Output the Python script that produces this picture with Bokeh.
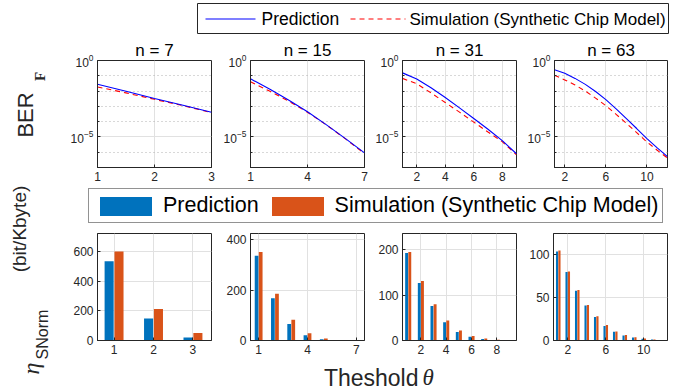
import math
from bokeh.plotting import figure
from bokeh.models import (Range1d, FixedTicker, Label, Legend, LegendItem, ColumnDataSource)
from bokeh.layouts import row, column
from bokeh.transform import dodge
from bokeh.embed import file_html
from bokeh.resources import INLINE

FONT = "Liberation Sans"
SERIF = "Liberation Serif"
TXT = "#262626"
LINE_BLUE = "#0000FF"
LINE_RED = "#FF0000"
BAR_BLUE = "#0072BD"
BAR_ORANGE = "#D95319"
GRID = "#E1E1E1"

# ---------------- data ----------------
titles = ["n = 7", "n = 15", "n = 31", "n = 63"]
series_names = ["Prediction", "Simulation (Synthetic Chip Model)"]

# BER_F curves (top row)
ber_x_n7 = [1, 1.5, 2, 2.5, 3]
ber_pred_n7 = [2.82e-2, 9.77e-3, 3.24e-3, 1.17e-3, 4.07e-4]
ber_sim_n7 = [1.86e-2, 7.59e-3, 2.88e-3, 1.12e-3, 3.89e-4]

ber_x_n15 = [1, 2, 3, 4, 5, 6, 7]
ber_pred_n15 = [6.31e-2, 1.38e-2, 2.57e-3, 4.47e-4, 6.17e-5, 7.76e-6, 9.12e-7]
ber_sim_n15 = [4.07e-2, 1.00e-2, 2.24e-3, 4.07e-4, 6.03e-5, 7.41e-6, 8.13e-7]

ber_x_n31 = [1, 2, 3, 4, 5, 6, 7, 8, 9]
ber_pred_n31 = [0.155, 6.17e-2, 1.66e-2, 3.80e-3, 7.94e-4, 1.62e-4, 3.16e-5, 5.75e-6, 7.94e-7]
ber_sim_n31 = [6.76e-2, 3.02e-2, 7.59e-3, 1.78e-3, 4.17e-4, 9.33e-5, 2.09e-5, 4.90e-6, 6.76e-7]

ber_x_n63 = [1, 2, 3, 4, 5, 6, 7, 8, 9, 10, 11, 12]
ber_pred_n63 = [0.251, 0.145, 6.76e-2, 2.75e-2, 9.33e-3, 2.75e-3, 6.92e-4, 1.58e-4,
                3.55e-5, 7.76e-6, 1.91e-6, 5.13e-7]
ber_sim_n63 = [0.110, 5.37e-2, 2.51e-2, 1.00e-2, 3.47e-3, 1.10e-3, 3.02e-4, 7.76e-5,
               1.91e-5, 4.68e-6, 1.35e-6, 4.17e-7]

ber_xticks = [[1, 2, 3], [1, 4, 7], [2, 4, 6, 8], [2, 6, 10]]
ber_xlims = [(1, 3), (1, 7), (1, 9), (1, 12)]
ber_yticks = [1e-5, 1.0]
ber_yminor = [1e-7, 1e-6, 1e-4, 1e-3, 1e-2, 1e-1]

# eta_SNorm bars (bottom row)
eta_x_n7 = [1, 2, 3]
eta_pred_n7 = [535, 149, 20]
eta_sim_n7 = [600, 212, 50]

eta_x_n15 = [1, 2, 3, 4, 5, 6, 7]
eta_pred_n15 = [337, 168, 66, 21, 5.3, 0.8, 0.1]
eta_sim_n15 = [352, 186, 82, 29, 8, 1.5, 0.2]

eta_x_n31 = [1, 2, 3, 4, 5, 6, 7, 8, 9]
eta_pred_n31 = [193, 127, 76, 40, 19, 8, 3.5, 1.2, 0.3]
eta_sim_n31 = [195, 131, 80, 44, 22, 10, 4.4, 1.5, 0.4]

eta_x_n63 = [1, 2, 3, 4, 5, 6, 7, 8, 9, 10, 11, 12]
eta_pred_n63 = [104, 80, 58, 41, 27.5, 17, 10.2, 5.9, 3.5, 2.0, 1.1, 0.5]
eta_sim_n63 = [105, 80.5, 59, 41.6, 28.2, 18, 10.6, 6.3, 3.9, 2.3, 1.2, 0.6]

eta_xticks = [[1, 2, 3], [1, 4, 7], [2, 4, 6, 8], [2, 6, 10]]
eta_yticks = [[0, 200, 400, 600], [0, 200, 400], [0, 100, 200], [0, 50, 100]]
eta_xlims = [(0.58, 3.47), (0.5, 7.5), (0.55, 9.55), (0.5, 12.5)]
eta_ylims = [(0, 722), (0, 425), (0, 236), (0, 125)]

ber_sets = [(ber_x_n7, ber_pred_n7, ber_sim_n7), (ber_x_n15, ber_pred_n15, ber_sim_n15),
            (ber_x_n31, ber_pred_n31, ber_sim_n31), (ber_x_n63, ber_pred_n63, ber_sim_n63)]
eta_sets = [(eta_x_n7, eta_pred_n7, eta_sim_n7), (eta_x_n15, eta_pred_n15, eta_sim_n15),
            (eta_x_n31, eta_pred_n31, eta_sim_n31), (eta_x_n63, eta_pred_n63, eta_sim_n63)]

# ---------------- layout ----------------
LW = 58            # width of the y-label strip
CW = 683 - LW      # width of the main column
FW, FH = 114, 107
borders_lr = [(97 - LW, 8), (31, 8), (30, 8), (29, 16)]
H_LEG1, H_LEG2, H_XL = 36, 40, 31
TOP_B = (24, 18)   # top row: border above / below the frame
BOT_B = (8, 20)    # bottom row


def style(p):
    p.outline_line_color = TXT
    p.outline_line_width = 1
    p.background_fill_color = "white"
    p.border_fill_color = "white"
    for ax in p.axis:
        ax.axis_line_color = TXT
        ax.major_tick_line_color = TXT
        ax.minor_tick_line_color = TXT
        ax.major_tick_in = 3
        ax.major_tick_out = 0
        ax.minor_tick_in = 2
        ax.minor_tick_out = 0
        ax.major_label_text_font = FONT
        ax.major_label_text_font_size = "12px"
        ax.major_label_text_color = TXT
        ax.major_label_standoff = 4
    p.xgrid.grid_line_color = GRID
    p.ygrid.grid_line_color = GRID


def blank(w, h):
    p = figure(width=w, height=h, x_range=Range1d(0, w), y_range=Range1d(0, h),
               x_axis_type=None, y_axis_type=None, min_border=0,
               outline_line_color=None, toolbar_location=None, output_backend="svg")
    p.background_fill_color = "white"
    p.border_fill_color = "white"
    return p


top_figs = []
for i in range(4):
    xs, pred, sim = ber_sets[i]
    bl, br = borders_lr[i]
    p = figure(width=bl + FW + br, height=TOP_B[0] + FH + TOP_B[1],
               min_border_left=bl, min_border_right=br,
               min_border_top=TOP_B[0], min_border_bottom=TOP_B[1], y_axis_type="log",
               x_range=Range1d(*ber_xlims[i]), y_range=Range1d(1e-7, 1),
               toolbar_location=None, output_backend="svg")
    p.title.text = titles[i]
    p.title.align = "center"
    p.title.text_font = FONT
    p.title.text_font_size = "17px"
    p.title.text_font_style = "normal"
    p.title.text_color = "#000000"
    p.title.standoff = 2
    p.line(xs, sim, line_color=LINE_RED, line_width=1.1, line_dash="5 4")
    p.line(xs, pred, line_color=LINE_BLUE, line_width=1.1)
    style(p)
    p.xaxis.ticker = FixedTicker(ticks=ber_xticks[i])
    p.yaxis.ticker = FixedTicker(ticks=ber_yticks, minor_ticks=ber_yminor)
    p.ygrid.minor_grid_line_color = "#B0B0B0"
    p.ygrid.minor_grid_line_dash = "1 3"
    top_figs.append(p)

bot_figs = []
for i in range(4):
    xs, pred, sim = eta_sets[i]
    bl, br = borders_lr[i]
    p = figure(width=bl + FW + br, height=BOT_B[0] + FH + BOT_B[1],
               min_border_left=bl, min_border_right=br,
               min_border_top=BOT_B[0], min_border_bottom=BOT_B[1],
               x_range=Range1d(*eta_xlims[i]), y_range=Range1d(*eta_ylims[i]),
               toolbar_location=None, output_backend="svg")
    src = ColumnDataSource(dict(x=xs, pred=pred, sim=sim))
    p.vbar(x=dodge("x", -0.125, range=p.x_range), top="pred", width=0.23, source=src,
           fill_color=BAR_BLUE, line_color=None)
    p.vbar(x=dodge("x", 0.125, range=p.x_range), top="sim", width=0.23, source=src,
           fill_color=BAR_ORANGE, line_color=None)
    style(p)
    p.xaxis.ticker = FixedTicker(ticks=eta_xticks[i])
    p.yaxis.ticker = FixedTicker(ticks=eta_yticks[i])
    bot_figs.append(p)

# top legend (drawn by hand in a pixel-unit strip)
leg1 = blank(CW, H_LEG1)
leg1.quad(left=[197 - LW], right=[668 - LW], bottom=[H_LEG1 - 33], top=[H_LEG1 - 3],
          fill_color="white", line_color=TXT, line_width=1)
yc = H_LEG1 - 18.5
leg1.segment(x0=[205 - LW], x1=[255 - LW], y0=[yc], y1=[yc], line_color=LINE_BLUE,
             line_width=1.2)
leg1.segment(x0=[350 - LW], x1=[405 - LW], y0=[yc], y1=[yc], line_color=LINE_RED,
             line_width=1.2, line_dash="5 4")
leg1.add_layout(Label(x=261 - LW, y=yc, text=series_names[0], text_align="left",
                      text_baseline="middle", text_font=FONT, text_font_size="17.5px",
                      text_color="#000000"))
leg1.add_layout(Label(x=409 - LW, y=yc, text=series_names[1], text_align="left",
                      text_baseline="middle", text_font=FONT, text_font_size="17px",
                      text_color="#000000"))

# bottom legend
leg2 = blank(CW, H_LEG2)
s1 = ColumnDataSource(dict(x=[-50, -40], top=[-50, -50]))
r3 = leg2.vbar(x="x", top="top", width=1, source=s1, fill_color=BAR_BLUE, line_color=None)
r4 = leg2.vbar(x="x", top="top", width=1, source=s1, fill_color=BAR_ORANGE, line_color=None)
lg2 = Legend(items=[LegendItem(label=series_names[0], renderers=[r3]),
                    LegendItem(label=series_names[1], renderers=[r4])],
             orientation="horizontal", location=(88 - LW, 2), margin=0, padding=4,
             spacing=6, label_standoff=5, glyph_width=65, glyph_height=24, label_height=24,
             label_text_font=FONT, label_text_font_size="21.5px", label_text_color="#000000",
             border_line_color=TXT, border_line_width=1, background_fill_color="white")
leg2.add_layout(lg2)

# x label
xl = blank(CW, H_XL)
xl.add_layout(Label(x=418 - LW, y=14, text="Theshold", text_align="right",
                    text_baseline="alphabetic", text_font=FONT, text_font_size="23px",
                    text_color=TXT))
xl.add_layout(Label(x=422 - LW, y=14, text="θ", text_align="left", text_baseline="alphabetic",
                    text_font=SERIF, text_font_style="italic", text_font_size="23px",
                    text_color=TXT))

# y labels
yl = blank(LW, 390)
ang = math.pi / 2
yl.add_layout(Label(x=25, y=275.5, angle=ang, text="BER", text_align="center",
                    text_baseline="alphabetic", text_font=FONT, text_font_size="22px",
                    text_color=TXT))
yl.add_layout(Label(x=39, y=314, angle=ang, text="F", text_align="center",
                    text_baseline="alphabetic", text_font=SERIF, text_font_style="bold",
                    text_font_size="15px", text_color=TXT))
yl.add_layout(Label(x=19, y=161.5, angle=ang, text="(bit/Kbyte)", text_align="center",
                    text_baseline="alphabetic", text_font=FONT, text_font_size="19px",
                    text_color=TXT))
yl.add_layout(Label(x=42, y=56, angle=ang, text="SNorm", text_align="center",
                    text_baseline="alphabetic", text_font=FONT, text_font_size="16px",
                    text_color=TXT))
yl.add_layout(Label(x=30, y=22, angle=ang, text="η", text_align="center",
                    text_baseline="alphabetic", text_font=SERIF, text_font_style="italic",
                    text_font_size="24px", text_color=TXT))

layout = row(yl, column(leg1, row(*top_figs), leg2, row(*bot_figs), xl))

open("out.html", "w").write(file_html(layout, INLINE))
